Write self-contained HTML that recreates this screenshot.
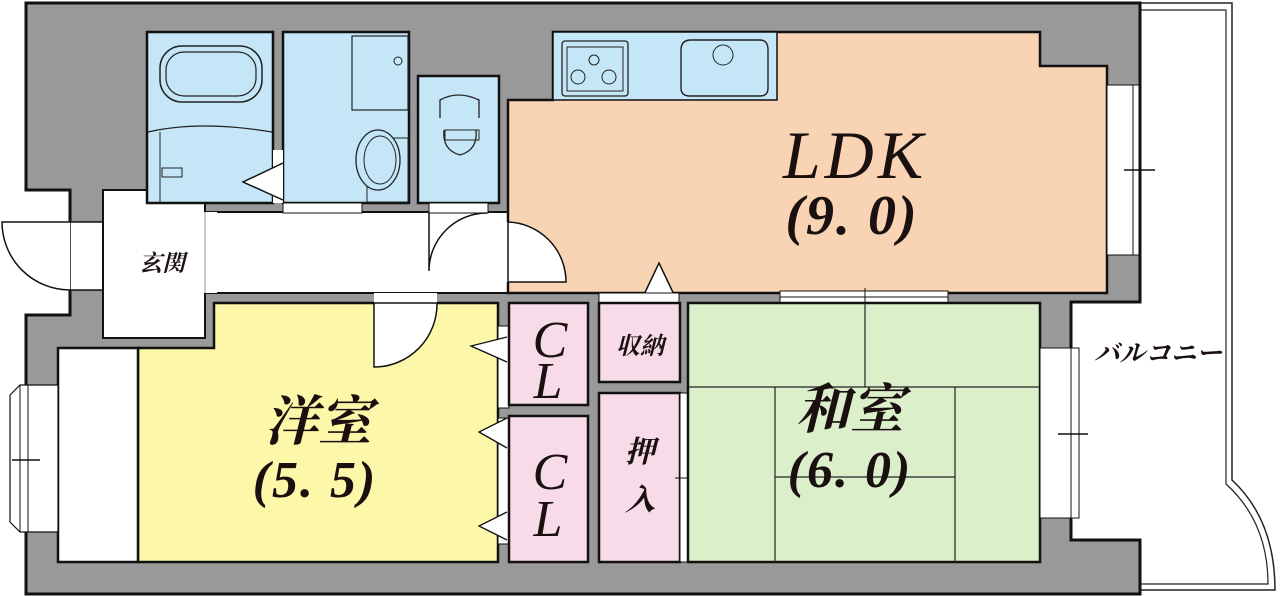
<!DOCTYPE html>
<html><head><meta charset="utf-8"><style>
html,body{margin:0;padding:0;background:#fff;width:1280px;height:596px;overflow:hidden}
svg{display:block}
.t{font-family:"Liberation Serif","Noto Serif CJK SC",serif;font-style:italic;fill:#1a1010}
.j{font-family:"Liberation Serif","Noto Serif CJK SC","Noto Sans CJK JP",serif;font-weight:bold;fill:#1a1010}
</style></head><body>
<svg width="1280" height="596" viewBox="0 0 1280 596" xmlns="http://www.w3.org/2000/svg">
<path d="M1140 3 H1232 V480 Q1275 520 1275 590 H1140" fill="#fff" stroke="#222" stroke-width="1.5"/>
<path d="M1140 10 H1226 V484 Q1268 522 1268 584 H1140" fill="none" stroke="#222" stroke-width="1.2"/>
<path d="M26 3 H1140 V302 H1071 V540 H1140 V594 H26 V315 H70 V190 H26 Z" fill="#999" stroke="#111" stroke-width="3"/>
<rect x="70" y="222" width="33" height="68" fill="#fff" stroke="#111" stroke-width="1.5"/>
<path d="M70 222 H2 A68 68 0 0 0 70 290" fill="#fff" stroke="#111" stroke-width="1.5"/>
<rect x="103" y="190" width="102" height="148" fill="#fff" stroke="#111" stroke-width="2"/>
<rect x="205" y="212" width="303" height="81" fill="#fff" stroke="#111" stroke-width="2"/>
<rect x="167" y="212" width="50" height="81" fill="#fff"/>
<line x1="205" y1="212" x2="205" y2="293" stroke="#999" stroke-width="1"/>
<rect x="147" y="32" width="126" height="171" fill="#c4e6f6" stroke="#111" stroke-width="2.5"/>
<rect x="160" y="46" width="102" height="56" rx="22" fill="none" stroke="#222" stroke-width="1.5"/>
<rect x="166" y="52" width="90" height="44" rx="18" fill="none" stroke="#222" stroke-width="1.2"/>
<path d="M148 132 Q200 120 272 132" fill="none" stroke="#222" stroke-width="1.2"/>
<line x1="160" y1="132" x2="160" y2="202" stroke="#222" stroke-width="1"/>
<rect x="162" y="168" width="20" height="9" fill="none" stroke="#222"/>
<rect x="283" y="32" width="126" height="171" fill="#c4e6f6" stroke="#111" stroke-width="2.5"/>
<rect x="352" y="36" width="56" height="74" fill="none" stroke="#222" stroke-width="1.2"/>
<circle cx="398" cy="61" r="4" fill="none" stroke="#222"/>
<path d="M367 138 H408 V202 H367 Z" fill="none" stroke="#222" stroke-width="1"/>
<ellipse cx="378" cy="160" rx="22" ry="30" fill="#c4e6f6" stroke="#222" stroke-width="1.3"/>
<ellipse cx="380" cy="160" rx="16" ry="24" fill="none" stroke="#222" stroke-width="1"/>
<rect x="273" y="150" width="10" height="53" fill="#fff"/>
<path d="M283 200 L243 182 L283 163" fill="#fff" stroke="#111" stroke-width="1.5"/>
<rect x="283" y="203" width="79" height="10" fill="#fff" stroke="#111" stroke-width="1"/>
<rect x="418" y="76" width="81" height="127" fill="#c4e6f6" stroke="#111" stroke-width="2.5"/>
<path d="M440 118 V100 Q458 90 479 100 V118" fill="none" stroke="#222" stroke-width="1.3"/>
<rect x="445" y="130" width="34" height="10" fill="none" stroke="#222"/>
<path d="M444 130 Q442 150 460 155 Q478 150 476 130" fill="none" stroke="#222" stroke-width="1.3"/>
<rect x="429" y="203" width="59" height="10" fill="#fff" stroke="#111" stroke-width="1"/>
<path d="M429 213 V271 A58 58 0 0 1 487 213" fill="none" stroke="#111" stroke-width="1.5"/>
<path d="M508 100 H553 V32 H1040 V66 H1107 V293 H508 Z" fill="#f9d4b4" stroke="#111" stroke-width="2.5"/>
<rect x="553" y="32" width="224" height="68" fill="#c4e6f6" stroke="#111" stroke-width="1.5"/>
<rect x="562" y="41" width="66" height="55" rx="3" fill="none" stroke="#222" stroke-width="1.3"/>
<rect x="567" y="47" width="56" height="44" fill="none" stroke="#222" stroke-width="1"/>
<circle cx="578" cy="77" r="7" fill="none" stroke="#222"/><circle cx="609" cy="77" r="7" fill="none" stroke="#222"/><circle cx="594" cy="60" r="5" fill="none" stroke="#222"/>
<path d="M681 50 Q681 40 691 40 H760 Q768 40 768 50 V88 Q768 96 760 96 H690 Q681 96 681 88 Z" fill="none" stroke="#222" stroke-width="1.4"/>
<circle cx="723" cy="55" r="10" fill="none" stroke="#222"/>
<rect x="499" y="222" width="9" height="60" fill="#fff"/>
<path d="M508 222 A60 60 0 0 1 566 282 H508 Z" fill="#fff" stroke="#111" stroke-width="1.5"/>
<rect x="1107" y="85" width="32" height="170" fill="#fff" stroke="#111" stroke-width="1"/>
<line x1="1133" y1="85" x2="1133" y2="255" stroke="#111"/>
<line x1="1124" y1="170" x2="1155" y2="170" stroke="#111" stroke-width="1.5"/>
<path d="M640 303 L659 263 L678 303" fill="#fff" stroke="#111" stroke-width="1.5"/>
<rect x="599" y="293" width="80" height="10" fill="#fff" stroke="#111"/>
<rect x="780" y="291" width="168" height="12" fill="#fff" stroke="#111"/>
<line x1="780" y1="297" x2="948" y2="297" stroke="#111"/>
<line x1="865" y1="288" x2="865" y2="306" stroke="#111"/>
<text class="t" x="855" y="178" font-size="68" text-anchor="middle" letter-spacing="4">LDK</text>
<text class="t" x="852" y="234" font-size="56" font-weight="bold" text-anchor="middle" letter-spacing="2">(9. 0)</text>
<path d="M214 303 H498 V562 H138 V348 H214 Z" fill="#fdf7a9" stroke="#111" stroke-width="2.5"/>
<rect x="58" y="348" width="80" height="214" fill="#fff" stroke="#111" stroke-width="2.5"/>
<path d="M10 395 L20 385 H58 V532 H20 L10 522 Z" fill="#fff" stroke="#111" stroke-width="1.2"/>
<line x1="20" y1="385" x2="20" y2="532" stroke="#111"/>
<line x1="28" y1="385" x2="28" y2="532" stroke="#111"/>
<line x1="12" y1="460" x2="40" y2="460" stroke="#111" stroke-width="1.5"/>
<rect x="374" y="293" width="63" height="10" fill="#fff"/>
<path d="M374 303 V367 A63 63 0 0 0 437 303 Z" fill="#fff" stroke="#111" stroke-width="1.5"/>
<text class="j" x="318" y="440" font-size="54" text-anchor="middle" font-style="italic">洋室</text>
<text class="t" x="315" y="497" font-size="52" font-weight="bold" text-anchor="middle" letter-spacing="2">(5. 5)</text>
<rect x="498" y="326" width="11" height="82" fill="#fff" stroke="#111"/>
<path d="M507 337 L471 346 L507 362" fill="#fff" stroke="#111" stroke-width="1.3"/>
<rect x="498" y="418" width="11" height="126" fill="#fff" stroke="#111"/>
<path d="M507 418 L479 432 L507 448" fill="#fff" stroke="#111" stroke-width="1.3"/>
<path d="M507 512 L479 526 L507 540" fill="#fff" stroke="#111" stroke-width="1.3"/>
<rect x="509" y="303" width="79" height="102" fill="#f8dbe8" stroke="#111" stroke-width="2.5"/>
<rect x="509" y="416" width="79" height="146" fill="#f8dbe8" stroke="#111" stroke-width="2.5"/>
<rect x="599" y="303" width="81" height="79" fill="#f8dbe8" stroke="#111" stroke-width="2.5"/>
<rect x="599" y="393" width="81" height="169" fill="#f8dbe8" stroke="#111" stroke-width="2.5"/>
<rect x="680" y="393" width="8" height="169" fill="#fff" stroke="#111"/>
<line x1="675" y1="478" x2="693" y2="478" stroke="#111"/>
<text class="t" x="550" y="357" font-size="52" text-anchor="middle">C</text>
<text class="t" x="548" y="398" font-size="52" text-anchor="middle">L</text>
<text class="t" x="550" y="489" font-size="52" text-anchor="middle">C</text>
<text class="t" x="548" y="536" font-size="52" text-anchor="middle">L</text>
<text class="j" x="640" y="354" font-size="24" text-anchor="middle" font-style="italic">収納</text>
<text class="j" x="640" y="462" font-size="30" text-anchor="middle" font-style="italic">押</text>
<text class="j" x="640" y="510" font-size="30" text-anchor="middle" font-style="italic">入</text>
<rect x="688" y="303" width="352" height="259" fill="#dcefcb" stroke="#111" stroke-width="2.5"/>
<g stroke="#222" stroke-width="1.2">
<line x1="688" y1="387" x2="1040" y2="387"/>
<line x1="865" y1="303" x2="865" y2="387"/>
<line x1="775" y1="387" x2="775" y2="562"/>
<line x1="955" y1="387" x2="955" y2="562"/>
<line x1="775" y1="477" x2="955" y2="477"/>
</g>
<rect x="1040" y="348" width="32" height="170" fill="#fff" stroke="#111"/>
<rect x="1071" y="348" width="8" height="170" fill="#fff" stroke="#111"/>
<line x1="1058" y1="434" x2="1088" y2="434" stroke="#111" stroke-width="1.5"/>
<text class="j" x="850" y="428" font-size="54" text-anchor="middle" font-style="italic">和室</text>
<text class="t" x="850" y="487" font-size="52" font-weight="bold" text-anchor="middle" letter-spacing="2">(6. 0)</text>
<text class="j" x="1158" y="362" font-size="26" text-anchor="middle" font-weight="normal" font-style="italic" textLength="128" lengthAdjust="spacingAndGlyphs">バルコニー</text>
<text class="j" x="162" y="271" font-size="23" text-anchor="middle" font-style="italic">玄関</text>
</svg>
</body></html>
